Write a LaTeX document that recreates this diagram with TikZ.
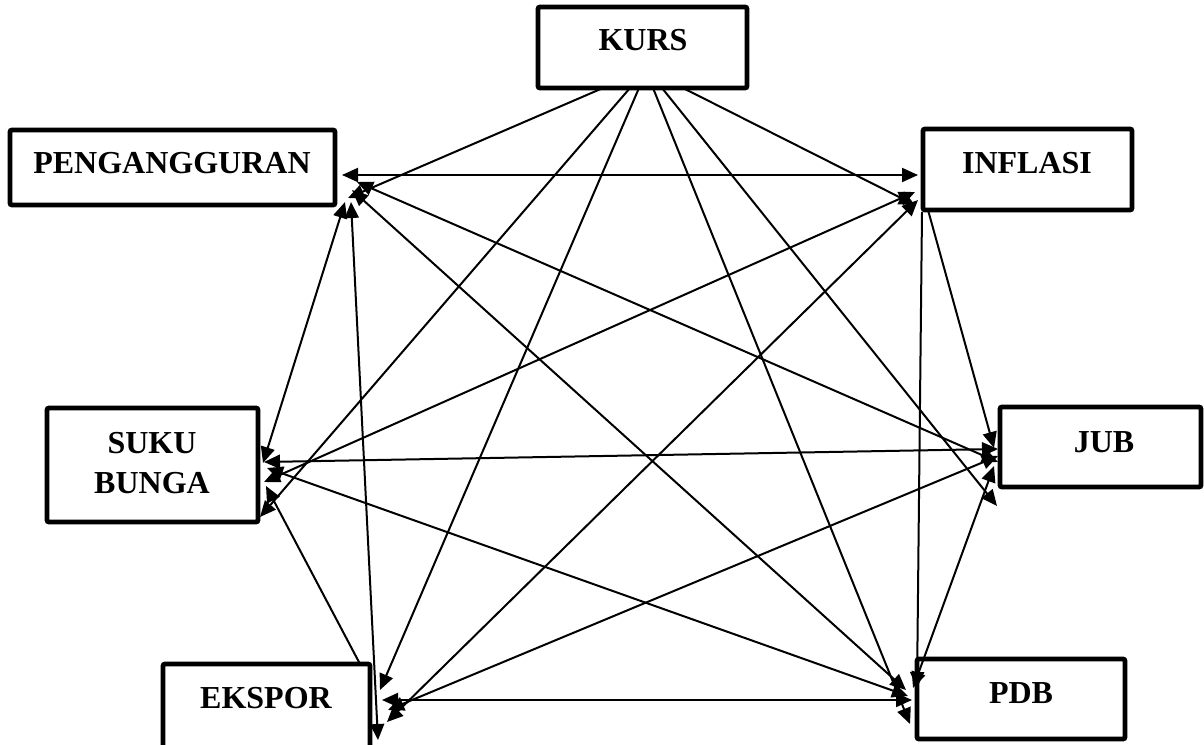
\documentclass[tikz,border=0pt]{standalone}
\usepackage{fontspec}
\setmainfont{Liberation Serif}
\usetikzlibrary{arrows.meta}
\begin{document}
\begin{tikzpicture}[x=0.5pt,y=-0.5pt,
  box/.style={draw, line width=2.4pt, rounded corners=1pt, anchor=north west, inner sep=0pt, outer sep=0pt, fill=white},
  lbl/.style={anchor=base, inner sep=0pt, font=\fontsize{16pt}{20pt}\selectfont\bfseries},
  conn/.style={line width=1pt},
  one/.style={conn, -{Triangle[length=8pt,width=7pt]}},
  two/.style={conn, {Triangle[length=8pt,width=7pt]}-{Triangle[length=8pt,width=7pt]}}]
\useasboundingbox (0,0) rectangle (1204,744);
\clip (0,0) rectangle (1204,744);
% boxes
\node[box, minimum width=104.5pt, minimum height=40.5pt] (k) at (538,7) {};
\node[box, minimum width=162.5pt, minimum height=37.5pt] (p) at (10,130) {};
\node[box, minimum width=104.5pt, minimum height=40.5pt] (i) at (923,129) {};
\node[box, minimum width=105.5pt, minimum height=57pt] (s) at (47,408) {};
\node[box, minimum width=100.5pt, minimum height=40pt] (j) at (1000,407) {};
\node[box, minimum width=103.5pt, minimum height=42pt] (e) at (163,664) {};
\node[box, minimum width=104pt, minimum height=40pt] (d) at (917,659) {};
% labels
\node[lbl] (tk) at (643,50) {KURS};
\node[lbl] (tp) at (172,173) {PENGANGGURAN};
\node[lbl] (ti) at (1027,173) {INFLASI};
\node[lbl] (ts1) at (152,453) {SUKU};
\node[lbl] (ts2) at (152,493) {BUNGA};
\node[lbl] (tj) at (1104,452) {JUB};
\node[lbl] (te) at (266,708) {EKSPOR};
\node[lbl] (td) at (1021,703) {PDB};
% connector end points
\coordinate (k1) at (603,88);
\coordinate (k2) at (630,88);
\coordinate (k3) at (639,88);
\coordinate (k4) at (653,88);
\coordinate (k5) at (662,88);
\coordinate (k6) at (683,88);
\coordinate (pk) at (348,198);
\coordinate (ik) at (915,205);
\coordinate (sk) at (260,517);
\coordinate (jk) at (997,506);
\coordinate (ek) at (380,690);
\coordinate (dk) at (910,724);
\coordinate (pi) at (342,175);
\coordinate (ip) at (918,175);
\coordinate (pj) at (357,182);
\coordinate (jp) at (998,462);
\coordinate (pd) at (352,190);
\coordinate (dp) at (906,690);
\coordinate (ps) at (345,202);
\coordinate (sp) at (263,463);
\coordinate (pe) at (351,202);
\coordinate (ep) at (378,740);
\coordinate (is) at (915,192);
\coordinate (si) at (264,482);
\coordinate (ie) at (918,200);
\coordinate (ei) at (387,722);
\coordinate (id) at (922,212);
\coordinate (di) at (917,688);
\coordinate (ij) at (928,210);
\coordinate (ji) at (994,448);
\coordinate (sj) at (264,462);
\coordinate (js) at (998,449);
\coordinate (sd) at (267,468);
\coordinate (ds) at (908,696);
\coordinate (es) at (360,664);
\coordinate (se) at (266,486);
\coordinate (ej) at (388,710);
\coordinate (je) at (998,456);
\coordinate (ed) at (382,700);
\coordinate (de) at (912,700);
\coordinate (jd) at (994,466);
\coordinate (dj) at (913,688);
% connectors
\draw[one] (k1) -- (pk);
\draw[one] (k6) -- (ik);
\draw[one] (k2) -- (sk);
\draw[one] (k5) -- (jk);
\draw[one] (k3) -- (ek);
\draw[one] (k4) -- (dk);
\draw[two] (pi) -- (ip);
\draw[two] (pj) -- (jp);
\draw[two] (pd) -- (dp);
\draw[two] (ps) -- (sp);
\draw[two] (pe) -- (ep);
\draw[two] (is) -- (si);
\draw[two] (ie) -- (ei);
\draw[one] (id) -- (di);
\draw[one] (ij) -- (ji);
\draw[two] (sj) -- (js);
\draw[two] (sd) -- (ds);
\draw[one] (es) -- (se);
\draw[two] (ej) -- (je);
\draw[two] (ed) -- (de);
\draw[two] (jd) -- (dj);
\end{tikzpicture}
\end{document}
